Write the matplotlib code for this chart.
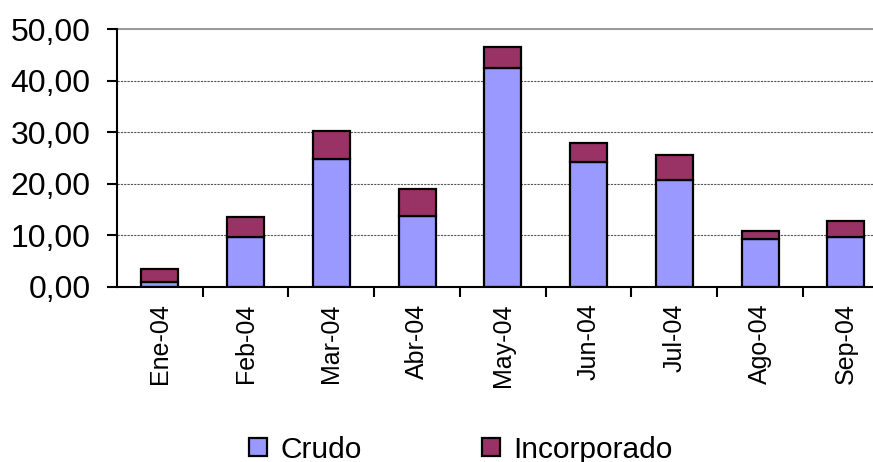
import numpy as np
import matplotlib
matplotlib.use('Agg')
import matplotlib.pyplot as plt
from matplotlib.ticker import FuncFormatter

plt.rcParams['font.family'] = ['Liberation Sans', 'DejaVu Sans']

meses = ['Ene-04', 'Feb-04', 'Mar-04', 'Abr-04', 'May-04',
         'Jun-04', 'Jul-04', 'Ago-04', 'Sep-04']
crudo = [1.0, 9.6, 24.8, 13.8, 42.5, 24.3, 20.8, 9.3, 9.6]
incorporado = [2.5, 3.9, 5.4, 5.2, 4.0, 3.6, 4.8, 1.5, 3.2]
yticks = [0, 10, 20, 30, 40, 50]

fig = plt.figure(figsize=(8.73, 4.62), dpi=100)
# plot area runs past the right edge, as in the original
ax = fig.add_axes([0.134, 0.379, 0.884, 0.558])

x = np.arange(len(meses))
w = 0.43
ax.bar(x, crudo, w, color='#9999FF', edgecolor='black', linewidth=1.6,
       label='Crudo', zorder=3)
ax.bar(x, incorporado, w, bottom=crudo, color='#993366', edgecolor='black',
       linewidth=1.6, label='Incorporado', zorder=3)

ax.set_xlim(-0.5, len(meses) - 0.5)
ax.set_ylim(0, 50)
ax.set_yticks(yticks)
ax.yaxis.set_major_formatter(FuncFormatter(lambda v, p: f'{v:.2f}'.replace('.', ',')))
ax.tick_params(axis='y', labelsize=23, length=7, width=1.5, direction='out', pad=12)

# category labels at centres, tick marks at category boundaries
ax.set_xticks(x)
ax.set_xticklabels(meses, rotation=90, fontsize=18)
ax.tick_params(axis='x', which='major', length=0, pad=12)
ax.set_xticks(np.arange(len(meses)) + 0.5, minor=True)
ax.tick_params(axis='x', which='minor', length=7, width=1.5, direction='out')

for v in yticks[1:-1]:
    ax.axhline(v, color='#555555', linewidth=0.8, linestyle=(0, (2, 1)), zorder=1)
ax.axhline(50, color='#999999', linewidth=1.5, zorder=1, clip_on=False)

for s in ['top', 'right']:
    ax.spines[s].set_visible(False)
for s in ['left', 'bottom']:
    ax.spines[s].set_linewidth(1.5)
    ax.spines[s].set_zorder(4)

fig.legend(loc='center', bbox_to_anchor=(0.528, 0.027), ncol=2, frameon=False,
           fontsize=21.5, handlelength=0.6, handleheight=0.6, handletextpad=0.45,
           columnspacing=4.0)

fig.savefig('out.png', dpi=100)
